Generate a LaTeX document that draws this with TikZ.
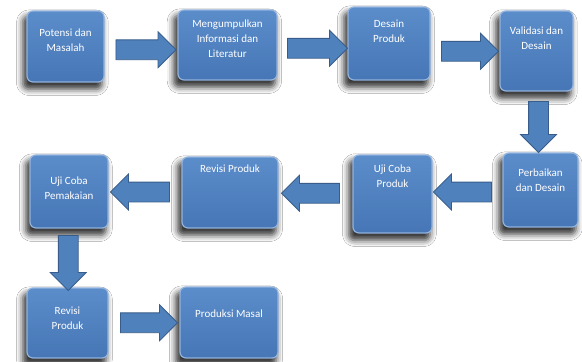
\documentclass[tikz,border=0pt]{standalone}
\usepackage{fontspec}
\setmainfont{Carlito}
\usepackage{xcolor}
\usetikzlibrary{positioning, calc, shapes.arrows, shadows.blur}
\definecolor{boxblue}{RGB}{79, 129, 189}
\definecolor{boxtop}{RGB}{92, 141, 203}
\definecolor{boxbottom}{RGB}{70, 118, 181}
\definecolor{edgeblue}{RGB}{146, 179, 221}
\definecolor{darkblue}{RGB}{56, 93, 138}

\begin{document}
\begin{tikzpicture}[
    x=1pt, y=-1pt,
    box/.style={
        rectangle,
        draw=edgeblue,
        line width=1.2pt,
        top color=boxtop,
        bottom color=boxbottom,
        rounded corners=6pt,
        inner sep=0pt,
        blur shadow={shadow xshift=-3pt, shadow yshift=-6pt,
            shadow scale=1.03, shadow blur radius=6pt, shadow opacity=80}
    },
    lbl/.style={
        anchor=north,
        align=center,
        inner sep=0pt,
        text=white,
        font=\fontsize{11}{15}\selectfont
    },
    blockarrow/.style={
        single arrow,
        draw=darkblue,
        fill=boxblue,
        line width=0.8pt,
        inner xsep=0pt,
        inner ysep=9.5pt,
        single arrow head extend=8pt,
        single arrow tip angle=90
    }
]
\useasboundingbox[fill=white] (0,0) rectangle (582,362);

% Nodes
\node[box, minimum width=77pt, minimum height=71pt,
    label={[lbl, yshift=-18pt]90:Potensi dan\\Masalah}] (potensi) at (65.5,46.5) {};
\node[box, minimum width=99pt, minimum height=70pt,
    label={[lbl, yshift=-10pt]90:Mengumpulkan\\Informasi dan\\Literatur}] (informasi) at (227.5,45) {};
\node[box, minimum width=82pt, minimum height=73pt,
    label={[lbl, yshift=-13pt]90:Desain\\Produk}] (desain) at (389,43.5) {};
\node[box, minimum width=73pt, minimum height=80pt,
    label={[lbl, yshift=-16pt]90:Validasi dan\\Desain}] (validasi) at (536.5,51) {};

\node[box, minimum width=75pt, minimum height=74pt,
    label={[lbl, yshift=-16pt]90:Perbaikan\\dan Desain}] (perbaikan) at (540.5,190) {};
\node[box, minimum width=79pt, minimum height=78pt,
    label={[lbl, yshift=-10pt]90:Uji Coba\\Produk}] (ujiproduk) at (392.5,194) {};
\node[box, minimum width=96pt, minimum height=71pt,
    label={[lbl, yshift=-8pt]90:Revisi Produk}] (revisi) at (230,192.5) {};
\node[box, minimum width=78pt, minimum height=73pt,
    label={[lbl, yshift=-22pt]90:Uji Coba\\Pemakaian}] (ujipakai) at (69,191.5) {};

\node[box, minimum width=81pt, minimum height=70pt,
    label={[lbl, yshift=-19pt]90:Revisi\\Produk}] (revisiakhir) at (67.5,323) {};
\node[box, minimum width=98pt, minimum height=71pt,
    label={[lbl, yshift=-23pt]90:Produksi Masal}] (produksi) at (229,322.5) {};

% Connections
\node[blockarrow, minimum height=60pt, yshift=-4pt] (a1) at ($(potensi.east)!0.5!(informasi.west)$) {};
\node[blockarrow, minimum height=60pt, yshift=-4pt] (a2) at ($(informasi.east)!0.5!(desain.west)$) {};
\node[blockarrow, minimum height=57pt, yshift=-4pt] (a3) at ($(desain.east)!0.5!(validasi.west)$) {};
\node[blockarrow, minimum height=51pt, rotate=-90] (a4) at ($(validasi.south)!0.5!(perbaikan.north)$) {};
\node[blockarrow, minimum height=58pt, rotate=180] (a5) at ($(perbaikan.west)!0.5!(ujiproduk.east)$) {};
\node[blockarrow, minimum height=58pt, rotate=180] (a6) at ($(ujiproduk.west)!0.5!(revisi.east)$) {};
\node[blockarrow, minimum height=59pt, rotate=180] (a7) at ($(revisi.west)!0.5!(ujipakai.east)$) {};
\node[blockarrow, minimum height=55pt, rotate=-90] (a8) at ($(ujipakai.south)!0.5!(revisiakhir.north)$) {};
\node[blockarrow, minimum height=57pt] (a9) at ($(revisiakhir.east)!0.5!(produksi.west)$) {};

\end{tikzpicture}
\end{document}
